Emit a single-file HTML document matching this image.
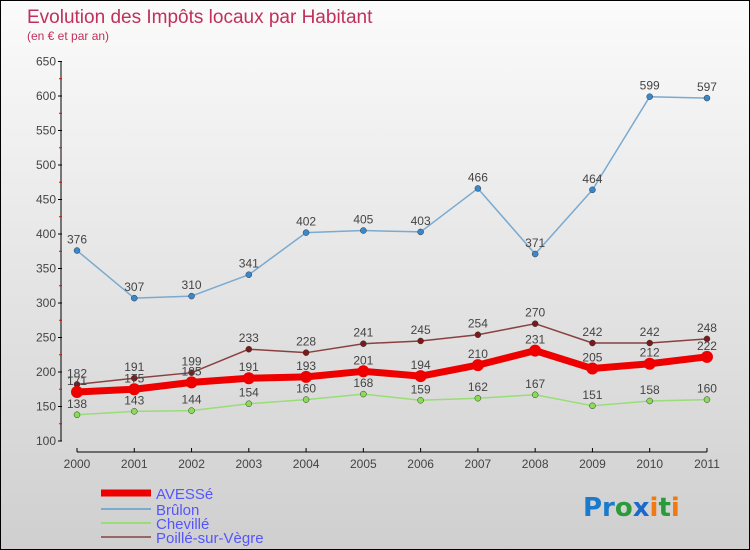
<!DOCTYPE html>
<html><head><meta charset="utf-8"><style>
body{margin:0}
#c{width:748px;height:548px;border:1px solid #000;background:linear-gradient(#fbfbfb,#cfcfcf);position:relative;font-family:"Liberation Sans",sans-serif;overflow:hidden}
</style></head><body>
<div id="c">
<svg id="s" width="748" height="548" xmlns="http://www.w3.org/2000/svg" font-family="Liberation Sans, sans-serif">
<text x="26" y="22" font-size="19" fill="#c0305a">Evolution des Impôts locaux par Habitant</text>
<text x="26" y="39" font-size="12" fill="#c0305a">(en € et par an)</text>
<g id="axes"></g><g id="series"></g>
<g>
<line x1="100" y1="492" x2="150" y2="492" stroke="#e00" stroke-width="7"/>
<text x="155" y="498" font-size="15" fill="#55f">AVESSé</text>
<line x1="100" y1="508" x2="150" y2="508" stroke="#7aaad0" stroke-width="2"/>
<text x="155" y="514" font-size="15" fill="#55f">Brûlon</text>
<line x1="100" y1="522" x2="150" y2="522" stroke="#99dd77" stroke-width="2"/>
<text x="155" y="528" font-size="15" fill="#55f">Chevillé</text>
<line x1="100" y1="536" x2="150" y2="536" stroke="#996666" stroke-width="2"/>
<text x="155" y="542" font-size="15" fill="#55f">Poillé-sur-Vègre</text>
</g>
<text x="582" y="515" font-size="26" font-family="DejaVu Sans, sans-serif" font-weight="bold"><tspan fill="#1a7acc">Pr</tspan><tspan fill="#2a9a3a">o</tspan><tspan fill="#1a6acc">x</tspan><tspan fill="#f07a10">i</tspan><tspan fill="#2a9a3a">t</tspan><tspan fill="#f07a10">i</tspan></text>
</svg>
</div>
<script>
const years=[2000,2001,2002,2003,2004,2005,2006,2007,2008,2009,2010,2011];
const yTicks=[100,150,200,250,300,350,400,450,500,550,600,650];
const avesse=[171,175,185,191,193,201,194,210,231,205,212,222];
const brulon=[376,307,310,341,402,405,403,466,371,464,599,597];
const cheville=[138,143,144,154,160,168,159,162,167,151,158,160];
const poille=[182,191,199,233,228,241,245,254,270,242,242,248];
const NS="http://www.w3.org/2000/svg";
const X=i=>76+i*57.27;
const Y=v=>440-(v-100)*(379.5/550);
function mk(t,a,p){const e=document.createElementNS(NS,t);for(const k in a)e.setAttribute(k,a[k]);p.appendChild(e);return e;}
const ax=document.getElementById('axes'),sg=document.getElementById('series');
let yl=mk('line',{x1:60,y1:Y(650),x2:60,y2:Y(100),stroke:'#000'},ax);


yTicks.forEach((v,k)=>{
 mk('line',{x1:57,y1:Y(v),x2:61,y2:Y(v),stroke:'#000'},ax);
 if(k<yTicks.length-1) mk('line',{x1:58,y1:Y(v+25),x2:61,y2:Y(v+25),stroke:'#e00'},ax);
 const t=mk('text',{x:55,y:Y(v)+4,'font-size':12,fill:'#444','text-anchor':'end'},ax);t.textContent=v;
 
 
});
let xl=mk('line',{x1:X(0),y1:451,x2:X(11),y2:451,stroke:'#000'},ax);


years.forEach((y,i)=>{
 mk('line',{x1:X(i),y1:447,x2:X(i),y2:451,stroke:'#000'},ax);
 const t=mk('text',{x:X(i),y:467,'font-size':12,fill:'#444','text-anchor':'middle'},ax);t.textContent=y;
 
 
});
function series(d,color,w,name,r,dot){
 const g=mk('g',{},sg);
 
 
 mk('polyline',{points:d.map((v,i)=>X(i)+','+Y(v)).join(' '),fill:'none',stroke:color,'stroke-width':w,'stroke-linejoin':'round'},g);
 d.forEach((v,i)=>{
  const c=mk('circle',{cx:X(i),cy:Y(v),r:r,fill:dot,stroke:'#333','stroke-width':w>3?0:0.5},g);
  
  
  const t=mk('text',{x:X(i),y:Y(v)-7,'font-size':12,fill:'#444','text-anchor':'middle'},g);t.textContent=v;
  
  
 });
}
series(cheville,'#99dd77',1.5,'series-cheville',3,'#88dd55');
series(poille,'#8a4040',1.5,'series-poille',3,'#7a1a1a');
series(brulon,'#7aaad0',1.5,'series-brulon',3,'#3a88cc');
series(avesse,'#e00',7,'series-avesse',6,'#e00');
</script>
</body></html>
